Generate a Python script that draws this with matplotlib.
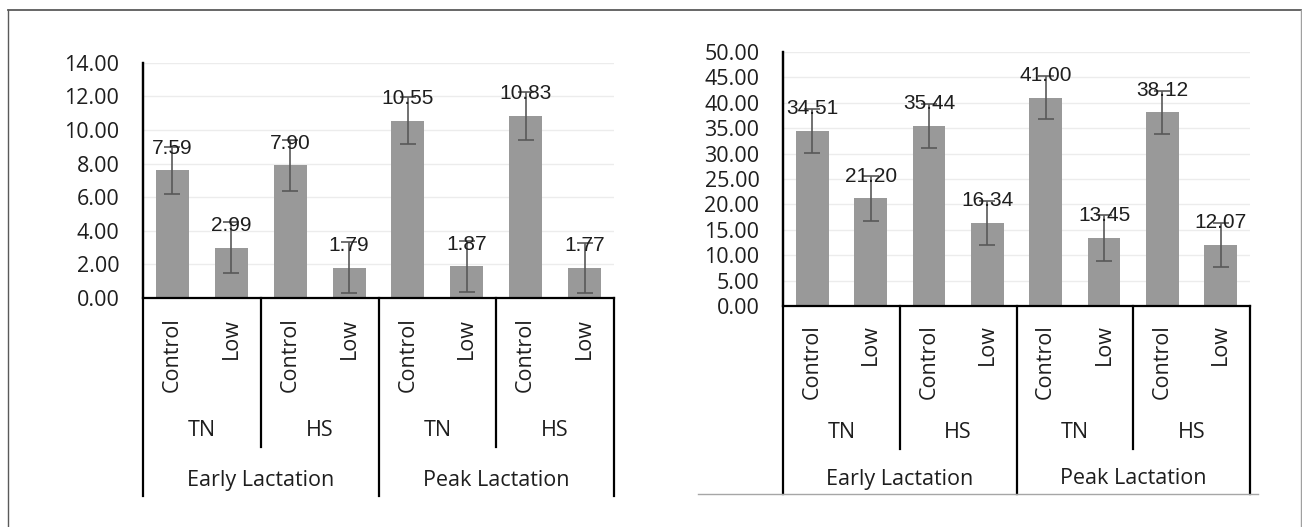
import matplotlib.pyplot as plt
import numpy as np
from matplotlib.lines import Line2D

# data
treatments = ["Control", "Low", "Control", "Low", "Control", "Low", "Control", "Low"]
environments = ["TN", "HS", "TN", "HS"]
stages = ["Early Lactation", "Peak Lactation"]

left_values = [7.59, 2.99, 7.90, 1.79, 10.55, 1.87, 10.83, 1.77]
left_errors = [1.42, 1.50, 1.52, 1.51, 1.40, 1.52, 1.44, 1.50]
right_values = [34.51, 21.20, 35.44, 16.34, 41.00, 13.45, 38.12, 12.07]
right_errors = [4.32, 4.40, 4.33, 4.33, 4.23, 4.49, 4.21, 4.31]

W, H = 1302, 527
fig = plt.figure(figsize=(W / 100, H / 100), dpi=100)

txt = "#1e1e1e"
lab_font = "Open Sans"
num_font = "Liberation Sans"


def draw(ax, values, errors, ymax, step, d_lab, d_div, d_env, d_stage, d_bot):
    n = len(values)
    x = np.arange(n)
    ax.bar(x, values, width=0.56, color="#999999", zorder=2)
    ax.errorbar(x, values, yerr=errors, fmt="none", ecolor="#595959",
                elinewidth=1.2, capsize=5.5, capthick=1.2, zorder=3)
    for xi, v in zip(x, values):
        ax.annotate(f"{v:.2f}", (xi, v), xytext=(0, 12), textcoords="offset points",
                    ha="center", va="baseline", fontfamily=num_font, fontsize=15,
                    color="#1e1e1e", zorder=4)
    ax.set_xlim(-0.5, n - 0.5)
    ax.set_ylim(0, ymax)
    ax.set_yticks(np.arange(0, ymax + step / 2, step))
    ax.yaxis.set_major_formatter("{x:.2f}")
    ax.grid(axis="y", color="#ececec", lw=1)
    ax.set_axisbelow(True)
    for s in ["top", "right"]:
        ax.spines[s].set_visible(False)
    for s in ["left", "bottom"]:
        ax.spines[s].set_linewidth(1.6)
        ax.spines[s].set_color("black")
    ax.set_xticks([])
    ax.tick_params(axis="y", length=0, pad=17, labelsize=15.5, labelcolor=txt)
    for t in ax.get_yticklabels():
        t.set_fontfamily(lab_font)

    # multi-level category axis
    h = ax.get_position().height * H
    f = lambda d: -d / h
    tr = ax.get_xaxis_transform()
    for xi, lab in zip(x, treatments):
        ax.text(xi, f(d_lab), lab, rotation=90, ha="center", va="top",
                transform=tr, fontfamily=lab_font, fontsize=15.5, color=txt)
    per_env = n // len(environments)
    for k, env in enumerate(environments):
        c = k * per_env + (per_env - 1) / 2
        ax.text(c, f(d_env), env, ha="center", va="center", transform=tr,
                fontfamily=lab_font, fontsize=15.5, color=txt)
        if k % 2 == 0:
            xd = k * per_env + per_env - 0.5
            ax.add_line(Line2D([xd, xd], [0, f(d_div)], transform=tr, color="black",
                               lw=1.6, clip_on=False))
    per_stage = n // len(stages)
    for k, st in enumerate(stages):
        c = k * per_stage + (per_stage - 1) / 2
        ax.text(c, f(d_stage), st, ha="center", va="center", transform=tr,
                fontfamily=lab_font, fontsize=15.5, color=txt)
    for k in range(len(stages) + 1):
        xd = k * per_stage - 0.5
        top = 1 if k == 0 else 0
        ax.add_line(Line2D([xd, xd], [top, f(d_bot)], transform=tr, color="black",
                           lw=1.6, clip_on=False))


ax1 = fig.add_axes([143 / W, 1 - 297.7 / H, 471 / W, 234.8 / H])
draw(ax1, left_values, left_errors, 14, 2, 20, 149, 133, 183, 198)

ax2 = fig.add_axes([783 / W, 1 - 306 / H, 467 / W, 253.9 / H])
draw(ax2, right_values, right_errors, 50, 5, 18, 143, 127, 173, 188)

# outer frame and stray border line
fig.add_artist(Line2D([7.5 / W, 1301 / W], [1 - 9.5 / H, 1 - 9.5 / H], color="#5a5a5a", lw=1.3))
fig.add_artist(Line2D([7.5 / W, 7.5 / W], [0, 1 - 9.5 / H], color="#5a5a5a", lw=1.0))
fig.add_artist(Line2D([1301 / W, 1301 / W], [0, 1 - 9.5 / H], color="#a0a0a0", lw=1.0))
fig.add_artist(Line2D([698 / W, 1258 / W], [1 - 494 / H, 1 - 494 / H], color="#a6a6a6", lw=1.0))

fig.savefig("out.png", dpi=100)
